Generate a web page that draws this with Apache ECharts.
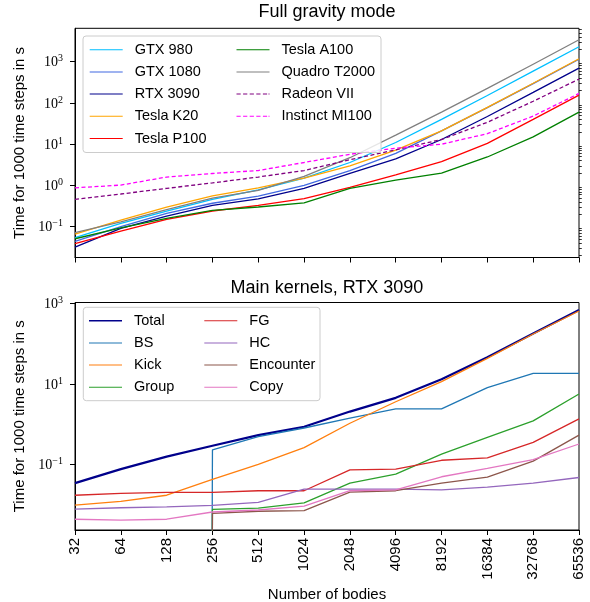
<!DOCTYPE html>
<html><head><meta charset="utf-8">
<script src="https://cdn.jsdelivr.net/npm/echarts@6/dist/echarts.min.js"></script>
<style>html,body{margin:0;padding:0;background:#fff}#c{width:590px;height:602px}</style>
</head><body><div id="c"></div>
<script>
// ---- data ----
const bodies = ['32','64','128','256','512','1024','2048','4096','8192','16384','32768','65536'];

// Full gravity mode (s per 1000 steps)
const gtx980        = [0.054, 0.12, 0.24, 0.46, 0.78, 1.5, 3.6, 11, 40, 152, 590, 2300];
const gtx1080       = [0.044, 0.10, 0.21, 0.37, 0.55, 1.0, 2.3, 6.0, 21, 77, 295, 1150];
const rtx3090       = [0.032, 0.091, 0.18, 0.33, 0.47, 0.85, 1.95, 4.4, 13, 47, 180, 700];
const teslaK20      = [0.066, 0.145, 0.30, 0.56, 0.87, 1.5, 3.0, 7.2, 21, 78, 300, 1180];
const teslaP100     = [0.039, 0.078, 0.15, 0.24, 0.33, 0.48, 0.9, 1.8, 3.8, 10.5, 40, 155];
const teslaA100     = [0.051, 0.093, 0.16, 0.25, 0.30, 0.38, 0.85, 1.35, 2.0, 4.9, 15, 60];
const quadroT2000   = [0.072, 0.13, 0.26, 0.49, 0.76, 1.65, 4.7, 16.6, 60, 225, 870, 3400];
const radeonVII     = [0.46, 0.62, 0.85, 1.15, 1.6, 2.3, 4.2, 7.3, 13, 34, 110, 380];
const instinctMI100 = [0.875, 1.02, 1.6, 1.95, 2.3, 3.6, 5.7, 8.0, 10, 18, 48, 170];

// Main kernels, RTX 3090 (0 = no time recorded)
const total     = [0.034, 0.076, 0.155, 0.29, 0.53, 0.86, 2.05, 4.5, 13, 46, 180, 690];
const bs        = [0, 0, 0, 0.23, 0.49, 0.8, 1.4, 2.4, 2.4, 8.1, 18.2, 18.2];
const kick      = [0.0097, 0.012, 0.017, 0.042, 0.1, 0.26, 1.05, 3.6, 11.4, 43, 174, 650];
const group     = [0, 0, 0, 0.0076, 0.0081, 0.011, 0.034, 0.057, 0.18, 0.47, 1.2, 5.6];
const fg        = [0.017, 0.019, 0.020, 0.020, 0.022, 0.022, 0.073, 0.076, 0.126, 0.145, 0.35, 1.35];
const hc        = [0.0077, 0.0083, 0.0087, 0.0095, 0.0113, 0.024, 0.024, 0.024, 0.023, 0.027, 0.034, 0.047];
const encounter = [0, 0, 0, 0.006, 0.0068, 0.007, 0.0204, 0.022, 0.034, 0.048, 0.12, 0.53];
const copy      = [0.0043, 0.0041, 0.0043, 0.0065, 0.0073, 0.0091, 0.022, 0.023, 0.049, 0.079, 0.13, 0.32];

const topTicks = [0.1, 1, 10, 100, 1000];
const bottomTicks = [0.1, 10, 1000];
const topTitle = 'Full gravity mode';
const bottomTitle = 'Main kernels, RTX 3090';
const yName = 'Time for 1000 time steps in s';
const xName = 'Number of bodies';

// ---- chart ----
const SANS = '"Liberation Sans", Arial, sans-serif';
const SERIF = '"Liberation Serif", "DejaVu Serif", serif';
const topMin = 0.0179, topMax = 6460, botMin = 0.00232, botMax = 1060;

const minorTicks = [];
for (let e = -2; e <= 3; e++) for (let m = 2; m <= 9; m++) {
  const v = m * Math.pow(10, e);
  if (v > topMin && v < topMax) minorTicks.push(v);
}

function pow10Label(v) {
  const e = Math.round(Math.log10(v));
  return '{b|10}{s|' + (e < 0 ? '\u2212' + (-e) : e) + '}';
}
const labelRich = {
  b: {fontFamily: SERIF, fontSize: 14, color: '#000', lineHeight: 16, verticalAlign: 'bottom'},
  s: {fontFamily: SERIF, fontSize: 10, color: '#000', lineHeight: 16, verticalAlign: 'top', padding: [0,0,6,0]}
};

// legend handle icons (box 33 x 3 units, bounded by invisible corner specks)
const BOX = ' M0,0H0.01V0.01H0Z M32.99,2.99H33V3H32.99Z';
const SOLID_ICON = 'path://M0,1H33V2H0Z' + BOX;
const THICK_ICON = 'path://M0,0.8H33V2.2H0Z' + BOX;
const DASH_ICON = 'path://M0,1H4.2V2H0Z M6.6,1H10.8V2H6.6Z M13.2,1H17.4V2H13.2Z M19.8,1H24V2H19.8Z M26.4,1H30.6V2H26.4Z M32,1H33V2H32Z' + BOX;

function ln(name, data, color, grid, extra) {
  return Object.assign({
    name, type: 'line', data: data.map(v => v === 0 ? 1e-300 : v),
    xAxisIndex: grid, yAxisIndex: grid === 0 ? 0 : 2,
    symbol: 'none', showSymbol: false, clip: true, animation: false,
    lineStyle: {color, width: 1.3, type: 'solid'}, itemStyle: {color},
    emphasis: {disabled: true}
  }, extra || {});
}
const dashed = (color) => ({lineStyle: {color, width: 1.3, type: [4, 2.5]}});

const series = [
  ln('GTX 980', gtx980, '#00bfff', 0),
  ln('GTX 1080', gtx1080, '#4169e1', 0),
  ln('RTX 3090', rtx3090, '#00008b', 0),
  ln('Tesla K20', teslaK20, '#ffa500', 0),
  ln('Tesla P100', teslaP100, '#ff0000', 0),
  ln('Tesla A100', teslaA100, '#008000', 0),
  ln('Quadro T2000', quadroT2000, '#808080', 0),
  ln('Radeon VII', radeonVII, '#800080', 0, dashed('#800080')),
  ln('Instinct MI100', instinctMI100, '#ff00ff', 0, dashed('#ff00ff')),
  ln('Total', total, '#00008b', 1, {lineStyle: {color: '#00008b', width: 2.2}}),
  ln('BS', bs, '#1f77b4', 1),
  ln('Kick', kick, '#ff7f0e', 1),
  ln('Group', group, '#2ca02c', 1),
  ln('FG', fg, '#d62728', 1),
  ln('HC', hc, '#9467bd', 1),
  ln('Encounter', encounter, '#8c564b', 1),
  ln('Copy', copy, '#e377c2', 1)
];

const axisLineBlack = {show: true, lineStyle: {color: '#000', width: 1}};
function xAx(grid, labels) {
  return {
    type: 'category', gridIndex: grid, data: bodies, boundaryGap: false,
    axisLine: axisLineBlack,
    axisTick: {show: true, length: 5, inside: false, lineStyle: {color: '#000'}},
    axisLabel: labels ? {show: true, rotate: 90, margin: 8, fontFamily: SANS, fontSize: 15, color: '#000', interval: 0}
                      : {show: false},
    splitLine: {show: false},
    name: labels ? xName : '', nameLocation: 'middle', nameGap: 57,
    nameTextStyle: {fontFamily: SANS, fontSize: 15, color: '#000'}
  };
}
function yAx(grid, min, max, ticks) {
  return {
    type: 'log', logBase: 10, gridIndex: grid, min, max,
    axisLine: axisLineBlack,
    axisTick: {show: true, length: 5, customValues: ticks, lineStyle: {color: '#000'}},
    axisLabel: {show: true, customValues: ticks, formatter: pow10Label, rich: labelRich, margin: 12},
    splitLine: {show: false}, minorTick: {show: false},
    name: yName, nameLocation: 'middle', nameGap: 44, nameRotate: 90,
    nameTextStyle: {fontFamily: SANS, fontSize: 15, color: '#000'}
  };
}

function legendCol(items, left, top) {
  return {
    data: items.map(it => ({name: it[0], icon: it[1] === 'd' ? DASH_ICON : it[1] === 't' ? THICK_ICON : SOLID_ICON})),
    orient: 'vertical', left, top, padding: 0,
    itemWidth: 33, itemHeight: 4.5, itemGap: 7.2,
    textStyle: {fontFamily: SANS, fontSize: 14.5, color: '#000', lineHeight: 15, padding: [0, 0, 0, 7]},
    selectedMode: false, z: 5
  };
}

const option = {
  animation: false,
  backgroundColor: '#fff',
  title: [
    {text: topTitle, left: 327, top: 3, textAlign: 'center', padding: 0,
     textStyle: {fontFamily: SANS, fontSize: 18, fontWeight: 'normal', color: '#000'}},
    {text: bottomTitle, left: 327, top: 279, textAlign: 'center', padding: 0,
     textStyle: {fontFamily: SANS, fontSize: 18, fontWeight: 'normal', color: '#000'}}
  ],
  grid: [
    {left: 75, right: 11, top: 28.3, height: 229.2, show: true, borderColor: '#000', borderWidth: 1, containLabel: false, outerBoundsMode: 'none'},
    {left: 75, right: 11, top: 302.5, height: 227.5, show: true, borderColor: '#000', borderWidth: 1, containLabel: false, outerBoundsMode: 'none'}
  ],
  xAxis: [xAx(0, false), xAx(1, true)],
  yAxis: [
    yAx(0, topMin, topMax, topTicks),
    {type: 'log', logBase: 10, gridIndex: 0, min: topMin, max: topMax,
     axisLine: {show: false}, axisLabel: {show: false}, splitLine: {show: false},
     axisTick: {show: true, length: 2.8, customValues: minorTicks, lineStyle: {color: '#000', width: 0.8}}},
    yAx(1, botMin, botMax, bottomTicks)
  ],
  legend: [
    legendCol([['GTX 980'],['GTX 1080'],['RTX 3090'],['Tesla K20'],['Tesla P100']], 89.7, 42.2),
    legendCol([['Tesla A100'],['Quadro T2000'],['Radeon VII', 'd'],['Instinct MI100', 'd']], 236.5, 42.2),
    legendCol([['Total', 't'],['BS'],['Kick'],['Group']], 89, 313.2),
    legendCol([['FG'],['HC'],['Encounter'],['Copy']], 204.3, 313.2)
  ],
  graphic: [
    {type: 'rect', z: 4, shape: {x: 83, y: 36, width: 298, height: 116.5, r: 3},
     style: {fill: 'rgba(255,255,255,0.8)', stroke: '#cccccc', lineWidth: 1}},
    {type: 'rect', z: 4, shape: {x: 83.3, y: 307.3, width: 236.7, height: 93.4, r: 3},
     style: {fill: 'rgba(255,255,255,0.8)', stroke: '#cccccc', lineWidth: 1}}
  ],
  series
};

const chart = echarts.init(document.getElementById('c'), null, {renderer: 'canvas'});
chart.setOption(option);
</script>
</body></html>
